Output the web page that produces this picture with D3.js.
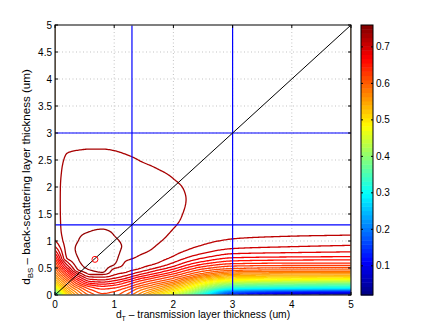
<!DOCTYPE html>
<html>
<head>
<meta charset="utf-8">
<script src="https://cdn.jsdelivr.net/npm/d3@7"></script>
<style>
  body { margin: 0; background: #fff; }
  svg { display: block; }
  text { font-family: "Liberation Sans", Arial, Helvetica, sans-serif; font-size: 10px; fill: #000; }
</style>
</head>
<body>
<svg id="chart" width="425" height="333"></svg>
<script>
// field: for each dT column, [dBS, value] knots along the column
const columnX = [0, 0.2, 0.4, 0.6, 0.8, 1.0, 1.2, 1.4, 1.7, 2.0, 2.25, 2.5, 3, 4, 5];
const columnKnots = [
  [[0, 0.28], [0.1, 0.42], [0.2, 0.50], [0.35, 0.56], [0.5, 0.60], [0.62, 0.629], [0.67, 0.644], [0.72, 0.658], [0.77, 0.673], [0.83, 0.6875], [0.90, 0.702], [1.02, 0.7165], [1.2, 0.7225], [1.6, 0.7248], [2.5, 0.7257], [5, 0.726]],
  [[0, 0.50], [0.1, 0.545], [0.27, 0.600], [0.31, 0.615], [0.35, 0.629], [0.39, 0.644], [0.43, 0.658], [0.47, 0.673], [0.51, 0.6875], [0.56, 0.702], [0.62, 0.7165], [0.68, 0.731], [0.85, 0.7355], [1.2, 0.7375], [1.5, 0.737], [2.0, 0.7355], [2.3, 0.7335], [2.62, 0.731], [3.0, 0.7292], [4, 0.7268], [5, 0.726]],
  [[0, 0.57], [0.1, 0.595], [0.15, 0.612], [0.19, 0.629], [0.228, 0.644], [0.266, 0.658], [0.304, 0.673], [0.342, 0.6875], [0.38, 0.702], [0.42, 0.7165], [0.46, 0.731], [0.55, 0.740], [0.66, 0.7455], [0.85, 0.7485], [1.02, 0.7455], [1.3, 0.742], [1.6, 0.7395], [2.0, 0.7362], [2.3, 0.734], [2.68, 0.731], [3.0, 0.7293], [4, 0.7268], [5, 0.726]],
  [[0, 0.605], [0.1, 0.629], [0.15, 0.644], [0.185, 0.658], [0.215, 0.673], [0.25, 0.6875], [0.29, 0.702], [0.335, 0.7165], [0.38, 0.731], [0.46, 0.7455], [0.6, 0.755], [0.75, 0.758], [0.95, 0.7545], [1.18, 0.7455], [1.5, 0.7415], [2.0, 0.7368], [2.35, 0.734], [2.70, 0.731], [3.0, 0.7295], [4, 0.727], [5, 0.726]],
  [[0, 0.625], [0.11, 0.644], [0.16, 0.658], [0.20, 0.673], [0.24, 0.6875], [0.28, 0.702], [0.33, 0.7165], [0.38, 0.731], [0.42, 0.7455], [0.55, 0.7555], [0.75, 0.7595], [0.95, 0.757], [1.22, 0.7455], [1.5, 0.7418], [2.0, 0.737], [2.35, 0.734], [2.70, 0.731], [3.0, 0.7295], [4, 0.727], [5, 0.726]],
  [[0, 0.62], [0.06, 0.629], [0.13, 0.644], [0.18, 0.658], [0.22, 0.673], [0.265, 0.6875], [0.31, 0.702], [0.37, 0.7165], [0.49, 0.731], [0.56, 0.7455], [0.7, 0.7505], [0.85, 0.751], [1.10, 0.7455], [1.5, 0.741], [2.0, 0.7365], [2.35, 0.7335], [2.67, 0.731], [3.0, 0.7294], [4, 0.727], [5, 0.726]],
  [[0, 0.60], [0.08, 0.615], [0.13, 0.629], [0.18, 0.644], [0.23, 0.658], [0.27, 0.673], [0.31, 0.6875], [0.36, 0.702], [0.42, 0.7165], [0.53, 0.726], [0.63, 0.731], [0.78, 0.7395], [0.92, 0.7428], [1.1, 0.742], [1.5, 0.7395], [2.0, 0.736], [2.3, 0.7335], [2.60, 0.731], [3.0, 0.7292], [4, 0.727], [5, 0.726]],
  [[0, 0.57], [0.06, 0.585], [0.12, 0.600], [0.16, 0.615], [0.20, 0.629], [0.25, 0.644], [0.29, 0.658], [0.33, 0.673], [0.37, 0.6875], [0.42, 0.702], [0.48, 0.7165], [0.6, 0.726], [0.72, 0.731], [0.9, 0.7365], [1.1, 0.7385], [1.3, 0.7388], [1.6, 0.7378], [2.0, 0.7352], [2.5, 0.731], [3.0, 0.729], [4, 0.727], [5, 0.726]],
  [[0, 0.51], [0.1, 0.56], [0.2, 0.600], [0.24, 0.615], [0.28, 0.629], [0.32, 0.644], [0.36, 0.658], [0.40, 0.673], [0.45, 0.6875], [0.50, 0.702], [0.58, 0.7165], [0.75, 0.727], [0.91, 0.731], [1.1, 0.734], [1.4, 0.7357], [1.7, 0.7358], [2.0, 0.7342], [2.35, 0.731], [2.8, 0.7288], [4, 0.7268], [5, 0.726]],
  [[0, 0.45], [0.1, 0.51], [0.2, 0.565], [0.27, 0.600], [0.31, 0.615], [0.35, 0.629], [0.39, 0.644], [0.43, 0.658], [0.48, 0.673], [0.53, 0.6875], [0.60, 0.702], [0.72, 0.7165], [0.95, 0.7265], [1.23, 0.731], [1.45, 0.7328], [1.7, 0.7333], [1.95, 0.7325], [2.15, 0.731], [2.5, 0.7292], [3.0, 0.7278], [4, 0.7266], [5, 0.726]],
  [[0, 0.38], [0.1, 0.46], [0.2, 0.52], [0.28, 0.565], [0.34, 0.600], [0.38, 0.615], [0.42, 0.629], [0.465, 0.644], [0.51, 0.658], [0.56, 0.673], [0.62, 0.6875], [0.70, 0.702], [0.84, 0.7165], [1.0, 0.7235], [1.3, 0.7285], [1.78, 0.7306], [2.2, 0.7294], [2.7, 0.728], [3.5, 0.7268], [5, 0.726]],
  [[0, 0.30], [0.1, 0.39], [0.2, 0.47], [0.3, 0.535], [0.40, 0.600], [0.44, 0.615], [0.48, 0.629], [0.525, 0.644], [0.57, 0.658], [0.62, 0.673], [0.685, 0.6875], [0.77, 0.702], [0.93, 0.7165], [1.1, 0.7225], [1.4, 0.7265], [1.8, 0.728], [2.3, 0.7278], [3, 0.727], [4, 0.7263], [5, 0.726]],
  [[0, 0.12], [0.06, 0.19], [0.14, 0.33], [0.22, 0.42], [0.30, 0.50], [0.38, 0.555], [0.455, 0.600], [0.49, 0.615], [0.535, 0.629], [0.58, 0.644], [0.63, 0.658], [0.69, 0.673], [0.765, 0.6875], [0.86, 0.702], [1.04, 0.7165], [1.3, 0.7228], [1.7, 0.7255], [2.5, 0.7263], [5, 0.726]],
  [[0, 0.05], [0.06, 0.13], [0.14, 0.31], [0.22, 0.40], [0.30, 0.485], [0.38, 0.55], [0.465, 0.600], [0.505, 0.615], [0.545, 0.629], [0.59, 0.644], [0.645, 0.658], [0.705, 0.673], [0.785, 0.6875], [0.895, 0.702], [1.09, 0.7165], [1.35, 0.7225], [1.8, 0.7252], [2.5, 0.726], [5, 0.726]],
  [[0, 0.02], [0.06, 0.11], [0.14, 0.30], [0.22, 0.39], [0.30, 0.48], [0.38, 0.55], [0.465, 0.600], [0.505, 0.615], [0.545, 0.629], [0.59, 0.644], [0.65, 0.658], [0.71, 0.673], [0.80, 0.6875], [0.92, 0.702], [1.11, 0.7165], [1.4, 0.7228], [1.9, 0.7253], [2.5, 0.726], [5, 0.726]]
];
const zRange = [0.02, 0.76];
const levelCount = 50;

const xTicks = [0, 1, 2, 3, 4, 5];
const yTicks = [0, 0.5, 1, 1.5, 2, 2.5, 3, 3.5, 4, 4.5, 5];
const cbTicks = [0.1, 0.2, 0.3, 0.4, 0.5, 0.6, 0.7];
const blueX = [1.3, 3];
const blueY = [1.3, 3];
const optimum = [0.675, 0.66];

const svg = d3.select('#chart');
const plot = { left: 55, right: 351, top: 25, bottom: 295 };
const cb = { left: 361, right: 373 };

const x = d3.scaleLinear().domain([0, 5]).range([plot.left, plot.right]);
const y = d3.scaleLinear().domain([0, 5]).range([plot.bottom, plot.top]);

function jet(t) {
  const f = v => Math.round(255 * Math.max(0, Math.min(1, v)));
  return d3.rgb(f(1.5 - Math.abs(4 * t - 3)), f(1.5 - Math.abs(4 * t - 2)), f(1.5 - Math.abs(4 * t - 1))).toString();
}
const color = d3.scaleSequential(jet).domain(zRange);

// monotone cubic through knots (no overshoot), used to resample the field
function pchip(xs, ys) {
  const n = xs.length, h = [], d = [], m = new Array(n);
  for (let i = 0; i < n - 1; i++) { h[i] = xs[i + 1] - xs[i]; d[i] = (ys[i + 1] - ys[i]) / h[i]; }
  m[0] = d[0]; m[n - 1] = d[n - 2];
  for (let i = 1; i < n - 1; i++) {
    if (d[i - 1] * d[i] <= 0) m[i] = 0;
    else {
      const w1 = 2 * h[i] + h[i - 1], w2 = h[i] + 2 * h[i - 1];
      m[i] = (w1 + w2) / (w1 / d[i - 1] + w2 / d[i]);
    }
  }
  return t => {
    const i = Math.max(0, Math.min(n - 2, d3.bisectRight(xs, t) - 1));
    const s = (t - xs[i]) / h[i], s2 = s * s, s3 = s2 * s;
    return (2 * s3 - 3 * s2 + 1) * ys[i] + (s3 - 2 * s2 + s) * h[i] * m[i]
      + (-2 * s3 + 3 * s2) * ys[i + 1] + (s3 - s2) * h[i] * m[i + 1];
  };
}

const n = 251, step = 5 / (n - 1);
const mesh = d3.range(n).map(i => i * step);
const colValues = columnKnots.map(k => mesh.map(pchip(k.map(p => p[0]), k.map(p => p[1]))));
const values = new Array(n * n);
mesh.forEach((yv, j) => {
  const across = pchip(columnX, colValues.map(c => c[j]));
  mesh.forEach((xv, i) => { values[j * n + i] = across(xv); });
});
const levels = d3.range(1, levelCount + 1).map(k => zRange[0] + k * (zRange[1] - zRange[0]) / (levelCount + 1));

const toScreen = d3.geoTransform({
  point(cx, cy) { this.stream.point(x((cx - 0.5) * step), y((cy - 0.5) * step)); }
});
const path = d3.geoPath(toScreen);

svg.append('rect').attr('width', 425).attr('height', 333).attr('fill', '#fff');

svg.append('clipPath').attr('id', 'clip')
  .append('rect')
  .attr('x', plot.left + 0.5).attr('y', plot.top + 0.5)
  .attr('width', plot.right - plot.left - 1).attr('height', plot.bottom - plot.top - 1);

// grid
const grid = svg.append('g').attr('stroke', '#b4b4b4').attr('stroke-width', 0.8).attr('stroke-dasharray', '1,2.5');
grid.selectAll('.gx').data(xTicks.slice(1, -1)).join('line')
  .attr('x1', d => x(d)).attr('x2', d => x(d)).attr('y1', plot.top).attr('y2', plot.bottom);
grid.selectAll('.gy').data(yTicks.slice(1, -1)).join('line')
  .attr('y1', d => y(d)).attr('y2', d => y(d)).attr('x1', plot.left).attr('x2', plot.right);

// contour lines
const contours = d3.contours().size([n, n]).thresholds(levels)(values);
svg.append('g').attr('clip-path', 'url(#clip)')
  .selectAll('path').data(contours).join('path')
  .attr('d', path)
  .attr('fill', 'none')
  .attr('stroke', d => color(d.value))
  .attr('stroke-width', 1.3)
  .attr('stroke-linejoin', 'round');

// reference lines
const ref = svg.append('g').attr('clip-path', 'url(#clip)');
ref.selectAll('.bx').data(blueX).join('line')
  .attr('x1', d => x(d)).attr('x2', d => x(d)).attr('y1', plot.top).attr('y2', plot.bottom)
  .attr('stroke', '#0000ff').attr('stroke-width', 1.2);
ref.selectAll('.by').data(blueY).join('line')
  .attr('y1', d => y(d)).attr('y2', d => y(d)).attr('x1', plot.left).attr('x2', plot.right)
  .attr('stroke', '#0000ff').attr('stroke-width', 1.2);
ref.append('line')
  .attr('x1', x(0)).attr('y1', y(0)).attr('x2', x(5)).attr('y2', y(5))
  .attr('stroke', '#000').attr('stroke-width', 1);
ref.append('circle')
  .attr('cx', x(optimum[0])).attr('cy', y(optimum[1])).attr('r', 3)
  .attr('fill', 'none').attr('stroke', '#ff0000').attr('stroke-width', 1);

// axes box and ticks
const ax = svg.append('g').attr('stroke', '#000').attr('stroke-width', 1);
ax.append('rect')
  .attr('x', plot.left).attr('y', plot.top)
  .attr('width', plot.right - plot.left).attr('height', plot.bottom - plot.top)
  .attr('fill', 'none');
xTicks.forEach(d => {
  ax.append('line').attr('x1', x(d)).attr('x2', x(d)).attr('y1', plot.bottom).attr('y2', plot.bottom - 3);
  ax.append('line').attr('x1', x(d)).attr('x2', x(d)).attr('y1', plot.top).attr('y2', plot.top + 3);
});
yTicks.forEach(d => {
  ax.append('line').attr('y1', y(d)).attr('y2', y(d)).attr('x1', plot.left).attr('x2', plot.left + 3);
  ax.append('line').attr('y1', y(d)).attr('y2', y(d)).attr('x1', plot.right).attr('x2', plot.right - 3);
});

svg.append('g').selectAll('text').data(xTicks).join('text')
  .attr('x', d => x(d)).attr('y', plot.bottom + 13)
  .attr('text-anchor', 'middle').text(d => d);
svg.append('g').selectAll('text').data(yTicks).join('text')
  .attr('x', plot.left - 3).attr('y', d => y(d)).attr('dy', '0.35em')
  .attr('text-anchor', 'end').text(d => d);

// axis titles
const xl = svg.append('text').attr('x', (plot.left + plot.right) / 2).attr('y', 318)
  .attr('text-anchor', 'middle').style('font-size', '10.3px');
xl.append('tspan').text('d');
xl.append('tspan').attr('dy', 3).style('font-size', '7px').text('T');
xl.append('tspan').attr('dy', -3).text(' \u2013 transmission layer thickness (um)');

const yl = svg.append('text')
  .attr('transform', 'translate(30,177) rotate(-90)')
  .attr('text-anchor', 'middle').style('font-size', '11.6px');
yl.append('tspan').text('d');
yl.append('tspan').attr('dy', 3).style('font-size', '8px').text('BS');
yl.append('tspan').attr('dy', -3).text(' \u2013 back-scattering layer thickness (um)');

// colorbar
const cy = d3.scaleLinear().domain(zRange).range([plot.bottom, plot.top]);
const bands = d3.range(64);
const bandH = (zRange[1] - zRange[0]) / 64;
svg.append('g').selectAll('rect').data(bands).join('rect')
  .attr('x', cb.left).attr('width', cb.right - cb.left)
  .attr('y', k => cy(zRange[0] + (k + 1) * bandH))
  .attr('height', k => cy(zRange[0] + k * bandH) - cy(zRange[0] + (k + 1) * bandH) + 0.5)
  .attr('fill', k => jet((k + 0.5) / 64));
const cbAx = svg.append('g').attr('stroke', '#000').attr('stroke-width', 1);
cbAx.append('rect')
  .attr('x', cb.left).attr('y', plot.top)
  .attr('width', cb.right - cb.left).attr('height', plot.bottom - plot.top)
  .attr('fill', 'none');
cbTicks.forEach(d => {
  cbAx.append('line').attr('y1', cy(d)).attr('y2', cy(d)).attr('x1', cb.left).attr('x2', cb.left + 2);
  cbAx.append('line').attr('y1', cy(d)).attr('y2', cy(d)).attr('x1', cb.right).attr('x2', cb.right - 2);
});
svg.append('g').selectAll('text').data(cbTicks).join('text')
  .attr('x', cb.right + 3).attr('y', d => cy(d)).attr('dy', '0.35em')
  .text(d => d);
</script>
</body>
</html>
